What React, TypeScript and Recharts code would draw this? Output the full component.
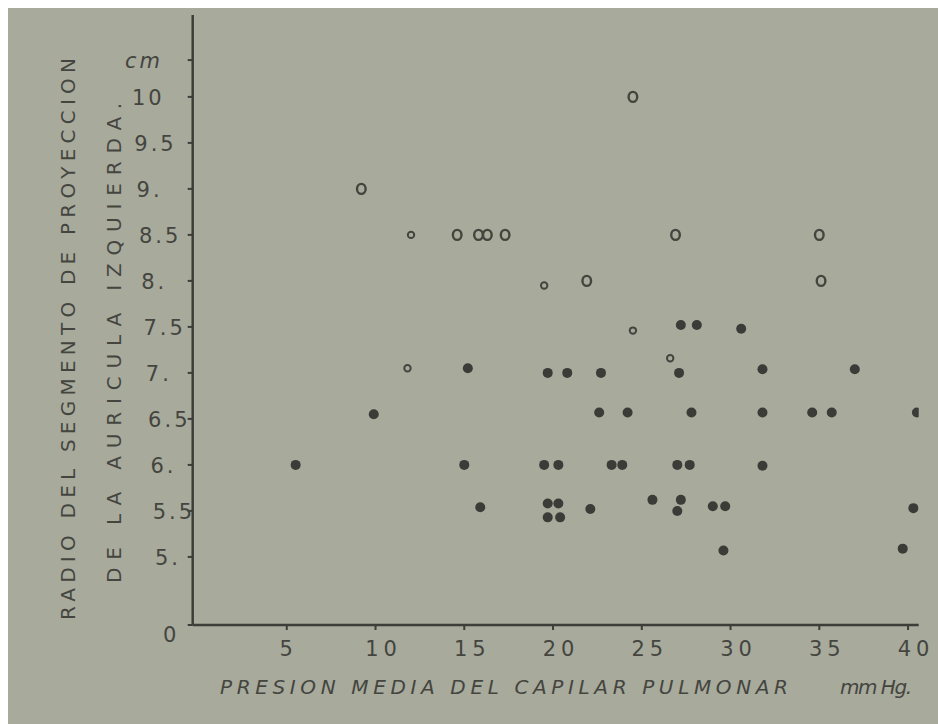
import React from 'react';
import { ScatterChart, Scatter, XAxis, YAxis, Label } from 'recharts';

// Open circles (large)
const openLarge = [
  { x: 9.2, y: 9.0 },
  { x: 14.6, y: 8.5 },
  { x: 15.8, y: 8.5 },
  { x: 16.3, y: 8.5 },
  { x: 17.3, y: 8.5 },
  { x: 21.9, y: 8.0 },
  { x: 24.5, y: 10.0 },
  { x: 26.9, y: 8.5 },
  { x: 35.0, y: 8.5 },
  { x: 35.1, y: 8.0 },
];

// Open circles (small)
const openSmall = [
  { x: 12.0, y: 8.5 },
  { x: 19.5, y: 7.95 },
  { x: 24.5, y: 7.46 },
  { x: 26.6, y: 7.16 },
  { x: 11.8, y: 7.05 },
];

// Filled dots
const filled = [
  { x: 5.5, y: 6.0 },
  { x: 9.9, y: 6.55 },
  { x: 15.2, y: 7.05 },
  { x: 15.0, y: 6.0 },
  { x: 15.9, y: 5.54 },
  { x: 19.7, y: 7.0 },
  { x: 20.8, y: 7.0 },
  { x: 22.7, y: 7.0 },
  { x: 27.1, y: 7.0 },
  { x: 31.8, y: 7.04 },
  { x: 37.0, y: 7.04 },
  { x: 22.6, y: 6.57 },
  { x: 24.2, y: 6.57 },
  { x: 27.8, y: 6.57 },
  { x: 31.8, y: 6.57 },
  { x: 34.6, y: 6.57 },
  { x: 35.7, y: 6.57 },
  { x: 40.5, y: 6.57 },
  { x: 19.5, y: 6.0 },
  { x: 20.3, y: 6.0 },
  { x: 23.3, y: 6.0 },
  { x: 23.9, y: 6.0 },
  { x: 27.0, y: 6.0 },
  { x: 27.7, y: 6.0 },
  { x: 31.8, y: 5.99 },
  { x: 19.7, y: 5.58 },
  { x: 20.3, y: 5.58 },
  { x: 19.7, y: 5.43 },
  { x: 20.4, y: 5.43 },
  { x: 22.1, y: 5.52 },
  { x: 25.6, y: 5.62 },
  { x: 27.2, y: 5.62 },
  { x: 27.0, y: 5.5 },
  { x: 29.0, y: 5.55 },
  { x: 29.7, y: 5.55 },
  { x: 40.3, y: 5.53 },
  { x: 29.6, y: 5.07 },
  { x: 39.7, y: 5.09 },
  { x: 27.2, y: 7.52 },
  { x: 28.1, y: 7.52 },
  { x: 30.6, y: 7.48 },
];

const xTicks = [5, 10, 15, 20, 25, 30, 35, 40];
const xTickLabels = ['5', '10', '15', '20', '25', '30', '35', '40'];
const yTicks = [4.26, 5, 5.5, 6, 6.5, 7, 7.5, 8, 8.5, 9, 9.5, 10, 10.4];
const yTickLabels = ['0', '5.', '5.5', '6.', '6.5', '7.', '7.5', '8.', '8.5', '9.', '9.5', '10', 'cm'];

const X_TITLE = 'PRESION  MEDIA DEL CAPILAR  PULMONAR';
const X_UNIT = 'mm Hg.';
const Y_TITLE_1 = 'RADIO DEL  SEGMENTO  DE  PROYECCION';
const Y_TITLE_2 = 'DE  LA  AURICULA  IZQUIERDA.';

const INK = '#44453f';
const FONT = '"DejaVu Sans", "Liberation Sans", sans-serif';

const XTick = (props: any) => {
  const { x, y, payload } = props;
  const i = xTicks.indexOf(payload.value);
  const label = i >= 0 ? xTickLabels[i] : String(payload.value);
  const shift = label.length > 1 ? 8 : 2;
  return (
    <text
      x={x + shift}
      y={y + 24}
      textAnchor="middle"
      fill={INK}
      fontFamily={FONT}
      fontSize={21}
      letterSpacing={5}
    >
      {label}
    </text>
  );
};

const YTick = (props: any) => {
  const { y, payload } = props;
  const i = yTicks.indexOf(payload.value);
  const label = i >= 0 ? yTickLabels[i] : String(payload.value);
  let left = 124 + 0.05 * (y - 89);
  let dy = 8;
  if (label === '0') {
    left = 155;
    dy = 17;
  }
  if (label === 'cm') {
    left = 117;
  }
  return (
    <text
      x={left}
      y={y + dy}
      textAnchor="start"
      fill={INK}
      fontFamily={FONT}
      fontSize={21}
      letterSpacing={3}
      fontStyle={label === 'cm' ? 'italic' : 'normal'}
    >
      {label}
    </text>
  );
};

const OpenLarge = (props: any) => (
  <ellipse cx={props.cx} cy={props.cy} rx={4.3} ry={5} fill="none" stroke={INK} strokeWidth={2.4} />
);
const OpenSmall = (props: any) => (
  <circle cx={props.cx} cy={props.cy} r={3.2} fill="none" stroke={INK} strokeWidth={2} />
);
const Filled = (props: any) => (
  <circle cx={props.cx} cy={props.cy} r={5} fill="#3b3c37" />
);

const XTitle = () => (
  <g fill={INK} fontFamily={FONT} fontSize={20} fontStyle="italic">
    <text x={212} y={686} textLength={568} lengthAdjust="spacing">
      {X_TITLE}
    </text>
    <text x={832} y={686} textLength={72} lengthAdjust="spacing">
      {X_UNIT}
    </text>
  </g>
);

const YTitle = () => (
  <g fill={INK} fontFamily={FONT} fontSize={20}>
    <text
      x={0}
      y={0}
      transform="translate(67,331) rotate(-90)"
      textAnchor="middle"
      textLength={562}
      lengthAdjust="spacing"
    >
      {Y_TITLE_1}
    </text>
    <text
      x={0}
      y={0}
      transform="translate(113,335) rotate(-90)"
      textAnchor="middle"
      textLength={480}
      lengthAdjust="spacing"
    >
      {Y_TITLE_2}
    </text>
  </g>
);

export default function App() {
  return (
    <div
      style={{
        position: 'fixed',
        top: 8,
        left: 8,
        width: 930,
        height: 716,
        backgroundColor: '#a8aa9c',
      }}
    >
      <ScatterChart
        width={930}
        height={716}
        margin={{ top: 7, right: 19.3, left: 0, bottom: 0 }}
      >
        <XAxis
          type="number"
          dataKey="x"
          domain={[-0.3, 40.6]}
          ticks={xTicks}
          interval={0}
          allowDataOverflow
          height={99}
          tick={<XTick />}
          tickSize={5}
          axisLine={{ stroke: '#3d3e39', strokeWidth: 2.5 }}
          tickLine={{ stroke: '#3d3e39', strokeWidth: 2 }}
        >
          <Label content={<XTitle />} />
        </XAxis>
        <YAxis
          type="number"
          dataKey="y"
          domain={[4.26, 10.89]}
          ticks={yTicks}
          interval={0}
          allowDataOverflow
          width={184.7}
          tick={<YTick />}
          tickSize={5}
          axisLine={{ stroke: '#3d3e39', strokeWidth: 2.5 }}
          tickLine={{ stroke: '#3d3e39', strokeWidth: 2 }}
        >
          <Label content={<YTitle />} />
        </YAxis>
        <Scatter data={filled} shape={<Filled />} isAnimationActive={false} />
        <Scatter data={openLarge} shape={<OpenLarge />} isAnimationActive={false} />
        <Scatter data={openSmall} shape={<OpenSmall />} isAnimationActive={false} />
      </ScatterChart>
    </div>
  );
}
